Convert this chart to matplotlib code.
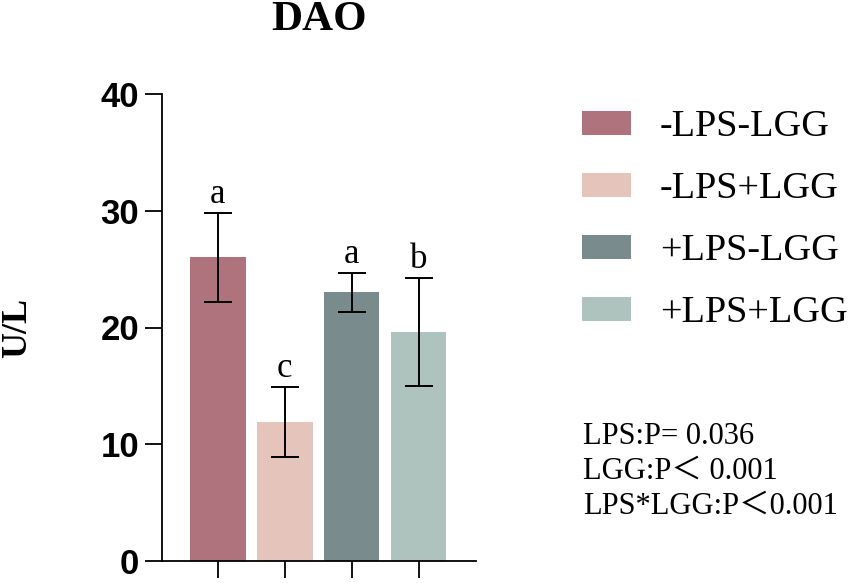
import matplotlib
matplotlib.use('Agg')
import matplotlib.pyplot as plt
from matplotlib.patches import Patch

# 数据
groups = ['-LPS-LGG', '-LPS+LGG', '+LPS-LGG', '+LPS+LGG']
means = [26.0, 11.9, 23.0, 19.6]
errs = [3.8, 3.0, 1.7, 4.65]
letters = ['a', 'c', 'a', 'b']
colors = ['#AE737D', '#E5C4BB', '#7A8B8E', '#AEC3BE']
stats = ['LPS:P= 0.036', 'LGG:P\uff1c 0.001', 'LPS*LGG:P\uff1c0.001']

SERIF = ['Liberation Serif', 'Noto Sans CJK SC']
SANS = ['Liberation Sans', 'DejaVu Sans']

W, H = 851, 583
fig = plt.figure(figsize=(W/100, H/100), dpi=100)
ax = fig.add_axes([162/W, 1-561/H, (476-162)/W, (561-94)/H])

x = list(range(len(groups)))
ax.bar(x, means, width=0.827, color=colors, zorder=1)
ax.errorbar(x, means, yerr=errs, fmt='none', ecolor='black', elinewidth=1.4,
            capsize=10, capthick=1.4, zorder=2)
for xi, m, e, l in zip(x, means, errs, letters):
    ax.text(xi, m + e + 0.15, l, ha='center', va='bottom', fontsize=25, family=SERIF)

ax.set_xlim(-0.836, 3.857)
ax.set_ylim(0, 40)
ax.set_yticks([0, 10, 20, 30, 40])
ax.set_xticks(x)
ax.set_xticklabels([])
for s in ['top', 'right']:
    ax.spines[s].set_visible(False)
for s in ['left', 'bottom']:
    ax.spines[s].set_linewidth(1.3)
ax.tick_params(axis='both', direction='out', length=12.5, width=1.3)
ax.tick_params(axis='y', pad=4)
for t in ax.get_yticklabels():
    t.set_family(SANS); t.set_fontweight('bold'); t.set_fontsize(25)

ax.set_ylabel('U/L', fontsize=26, fontweight='bold', family=SERIF)
ax.yaxis.set_label_coords(-0.408, 0.5)
ax.set_title('DAO', fontsize=31, fontweight='bold', family=SERIF, pad=46)

handles = [Patch(facecolor=c) for c in colors]
fig.legend(handles, groups, loc='upper left', bbox_to_anchor=(582/W, 1-110/H),
           frameon=False, borderpad=0, borderaxespad=0, prop={'family': SERIF, 'size': 27.5},
           handlelength=1.28, handleheight=0.6, handletextpad=0.76, labelspacing=0.72)

for i, s in enumerate(stats):
    fig.text(583/W, 1-(437+34.5*i)/H, s, ha='left', va='center', fontsize=22, family=SERIF)

fig.savefig('out.png', dpi=100)
